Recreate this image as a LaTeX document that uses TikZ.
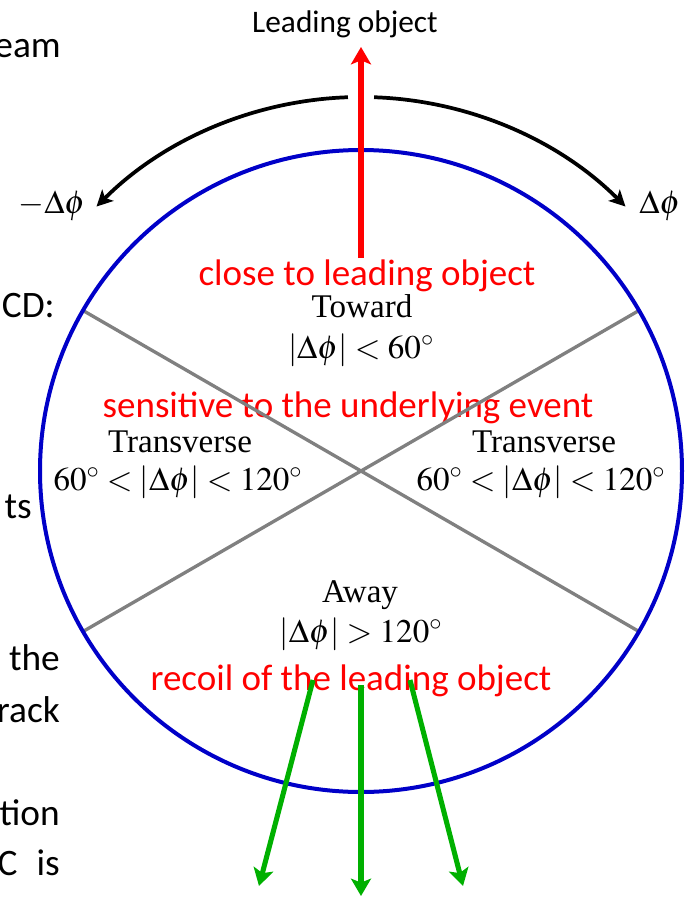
\documentclass[tikz,border=0pt]{standalone}
\usepackage{mathptmx}
\usepackage[no-math]{fontspec}
\setmainfont{Liberation Serif}
\newfontfamily\calibri{Carlito}
\usetikzlibrary{arrows.meta}
\definecolor{cblue}{RGB}{0,0,200}
\definecolor{cgreen}{RGB}{0,176,0}
\definecolor{cgray}{RGB}{128,128,128}
\definecolor{cred}{RGB}{255,0,0}
\begin{document}
\begin{tikzpicture}[x=0.75pt,y=-0.75pt,
  serif/.style={font=\fontsize{24.8}{29}\selectfont, anchor=base, inner sep=0pt},
  redtxt/.style={font=\calibri\fontsize{27.75}{33}\selectfont, text=cred, anchor=base, inner sep=0pt},
  side/.style={font=\calibri\fontsize{28}{33}\selectfont, anchor=base east, inner sep=0pt},
  toplabel/.style={font=\calibri\fontsize{23.5}{28}\selectfont, anchor=base, inner sep=0pt},
  bigarrow/.style={line width=3.8pt, -{Stealth[length=13pt,width=15pt,inset=3pt]}},
  turnarrow/.style={line width=2.8pt, -{Stealth[length=12pt,width=12pt,inset=3pt]}},
  divline/.style={cgray, line width=2.5pt},
]
\useasboundingbox (0,0) rectangle (685,897);
\coordinate (C) at (361,471);

% cut-off slide text at left
\node[side] (s1) at (61,57) {eam};
\node[side] (s2) at (55,317) {CD:};
\node[side] (s3) at (32,518) {ts};
\node[side] (s4) at (60,670) {the};
\node[side] (s5) at (60,722) {rack};
\node[side] (s6) at (60,825) {tion};
\node[side] (s7) at (60,875) {C\hspace{0.51em}is};

% red annotations
\node[redtxt] (close) at (367,285) {close to leading object};
\node[redtxt] (sens) at (348,417) {sensitive to the underlying event};
\node[redtxt] (recoil) at (351,690) {recoil of the leading object};

% dividing lines
\coordinate (ul) at ([shift={(210:321)}]C);
\coordinate (ur) at ([shift={(330:321)}]C);
\coordinate (ll) at ([shift={(150:321)}]C);
\coordinate (lr) at ([shift={(30:321)}]C);
\draw[divline] (ul) -- (lr);
\draw[divline] (ur) -- (ll);

% circle
\draw[cblue, line width=3pt] (C) circle[radius=321];

% rotation arrows
\coordinate (aL) at ([shift={(268:374)}]C);
\coordinate (aR) at ([shift={(272:374)}]C);
\draw[turnarrow] (aL) arc[start angle=268, end angle=225, radius=374];
\draw[turnarrow] (aR) arc[start angle=272, end angle=315, radius=374];

% leading object arrow
\coordinate (rs) at (361,258);
\coordinate (rt) at (361,47);
\draw[bigarrow, cred] (rs) -- (rt);
\node[toplabel] (lead) at (345,32) {Leading object};

% recoil arrows
\coordinate (g1s) at (313,680);
\coordinate (g1e) at (259,886);
\coordinate (g2s) at (361,685);
\coordinate (g2e) at (361,896);
\coordinate (g3s) at (410,680);
\coordinate (g3e) at (463,886);
\draw[bigarrow, cgreen] (g1s) -- (g1e);
\draw[bigarrow, cgreen] (g2s) -- (g2e);
\draw[bigarrow, cgreen] (g3s) -- (g3e);

% labels
\node[serif] (mdphi) at (52,213) {$-\Delta\phi$};
\node[serif] (pdphi) at (660,213) {$\Delta\phi$};
\node[serif] (toward) at (362,317) {Toward};
\node[serif] (towardr) at (361,358) {$|\Delta\phi| < 60^\circ$};
\node[serif] (trl) at (180,452) {Transverse};
\node[serif] (trlr) at (178,490) {$60^\circ < |\Delta\phi| < 120^\circ$};
\node[serif] (trr) at (544,452) {Transverse};
\node[serif] (trrr) at (541,490) {$60^\circ < |\Delta\phi| < 120^\circ$};
\node[serif] (away) at (360,602) {Away};
\node[serif] (awayr) at (361,642) {$|\Delta\phi| > 120^\circ$};
\end{tikzpicture}
\end{document}
